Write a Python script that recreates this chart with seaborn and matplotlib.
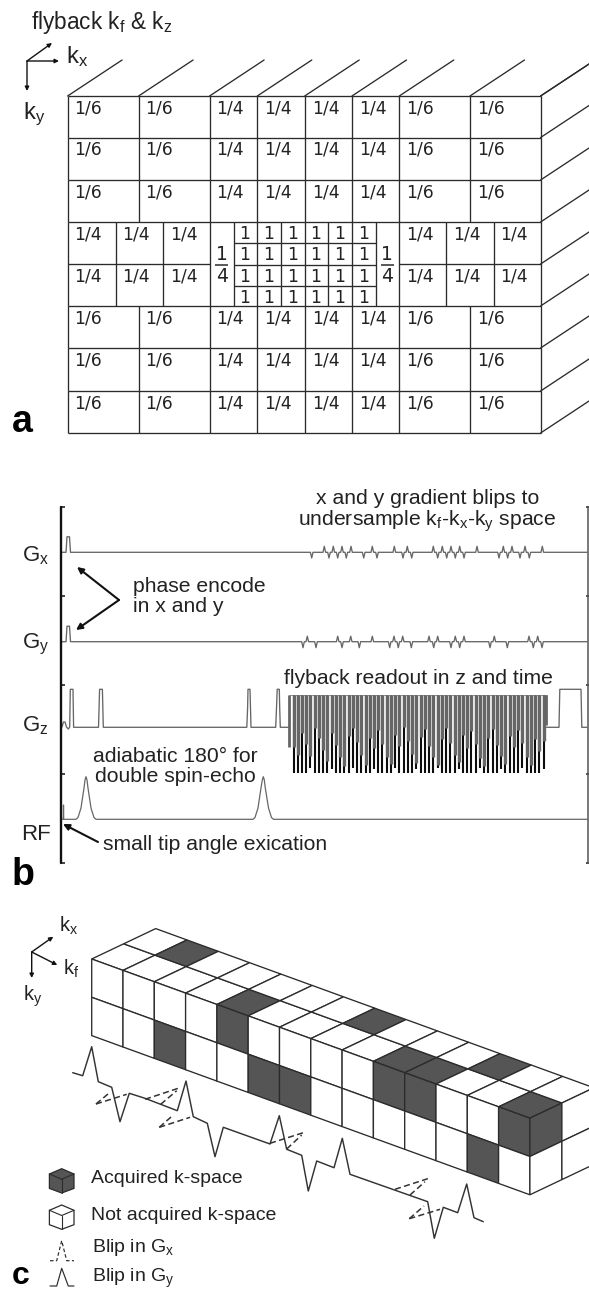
import matplotlib
matplotlib.use("Agg")
import matplotlib.pyplot as plt
from matplotlib.patches import Polygon
import seaborn as sns

# ---------- panel a ----------
A_ROWS = [96, 137.5, 180, 222, 264, 306, 348, 391, 433]
A_COLS_WIDE = [67.6, 138.6, 209.6, 257.3, 304.7, 352, 399.3, 470, 540.6]
A_COLS_MID_L = [67.6, 115.5, 163, 209.6]
A_COLS_MID_R = [399.3, 446.3, 493.6, 540.6]
A_COLS_CENTER = [233.7, 257.3, 281, 304.7, 328.3, 352, 375.7]
A_ROWS_CENTER = [222, 243, 264.5, 285.7, 306]
A_WIDE_LABELS = ["1/6", "1/6", "1/4", "1/4", "1/4", "1/4", "1/6", "1/6"]
A_MID_LABELS = ["1/4", "1/4", "1/4"]
A_ONE_X = [245, 269, 292.5, 316, 340, 363.5]
A_ONE_Y = [234, 255, 276.5, 298]

# ---------- panel b ----------
B_TICKS = [507, 596, 685, 774, 863]
GX_BASE = 552.3
GY_BASE = 641.7
GZ_BASE = 727.3
GZ_TOP = 689.3
RF_BASE = 819.3
GX_UP = [324.3, 333.3, 342, 351, 372.3, 394.3, 407.3, 433.3, 442.3, 451, 459.7, 477, 503.3, 512, 525, 542.3]
GX_DOWN = [311.7, 329, 337.7, 346.3, 363.7, 377, 403, 411.7, 437.7, 446.7, 455.3, 464, 499, 507.7, 520, 529.3]
GY_UP = [307.3, 337.7, 350.7, 372.3, 394, 402.7, 429, 437.7, 455.3, 464, 494.3, 529, 537.7]
GY_DOWN = [303, 316, 342, 359.3, 389.7, 398.3, 411.3, 433.7, 451, 459.7, 490, 507.3, 533.3, 542]
RO_BAR_BOTTOM = [773, 773, 773, 773, 768, 773, 773, 773, 773, 769, 773, 773, 773, 773, 768,
                 773, 773, 773, 773, 769, 773, 773, 773, 773, 768, 773, 773, 773, 773, 769,
                 773, 773, 773, 773, 768, 773, 773, 773, 773, 769, 773, 773, 773, 773, 768,
                 773, 773, 773, 773, 769, 773, 773, 773, 773, 768, 773, 773, 773, 773, 769]
RO_GRAY_END = [747, 755, 733, 744, 756, 728, 738, 750, 761, 733, 745, 757, 766, 736, 728,
               742, 755, 765, 738, 748, 730, 744, 757, 764, 735, 746, 727, 741, 754, 763,
               737, 729, 746, 757, 765, 739, 728, 743, 755, 762, 735, 748, 731, 744, 758,
               766, 738, 729, 745, 756, 764, 736, 747, 730, 743, 757, 765, 739, 751, 741]

GZ_X = [62, 63.5, 65, 66.5, 68.3, 69.7, 70.3, 73, 73.6, 98.5, 99.6, 102.4, 103.3, 246.8, 247.6, 248, 250, 250.5, 251, 275.7,
        276.5, 277.2, 279.3, 279.7, 280.3, 288.5]
GZ_Y = [727, 722, 722, 727, 729, 727, 689.3, 689.3, 727.3, 727.3, 689.3, 689.3, 727.3, 727.3, 708, 689.3, 689.3, 708, 727.3, 727.3,
        708, 689.3, 689.3, 708, 727.3, 727.3]
GZ_END_X = [546.5, 559, 559.8, 581, 581.8, 587]
GZ_END_Y = [727.3, 727.3, 689.3, 689.3, 727.3, 727.3]
RF_X = [62, 63.3, 63.5, 63.7, 64.5, 76, 78, 81, 84, 85, 86, 87, 88, 91, 94, 96,
        253, 255, 258, 261, 262.3, 263.3, 264.3, 265.3, 268.5, 271.5, 273.5, 587]
RF_Y = [819.3, 819, 805, 819, 819.3, 819.3, 817.5, 808, 788, 780, 776.7, 780, 788, 808, 817.5, 819.3,
        819.3, 817.5, 808, 788, 780, 776.7, 780, 788, 808, 817.5, 819.3, 819.3]

# ---------- panel c ----------
C_KF_CELLS = 14
C_TOP_DARK = [(1, 1), (4, 0), (7, 1), (9, 0), (10, 0), (11, 1), (13, 0)]
C_FRONT_DARK = [(2, 1), (4, 0), (5, 1), (6, 1), (9, 0), (10, 0), (12, 1), (13, 0)]
C_WAVE_X = [72.7, 82.7, 91.7, 98.3, 111.7, 120, 129.3, 145, 177.3, 186, 193.3, 207.3, 215, 223.3, 270, 279.3, 286.7, 301.7,
            308.3, 316.7, 334, 342.3, 350, 427.7, 434.3, 443.3, 457.7, 466.7, 474, 483.3]
C_WAVE_Y = [1072.7, 1075.7, 1046.7, 1081.7, 1087.3, 1121.7, 1093.3, 1098.3, 1110.7, 1081, 1116.7, 1123.3, 1156.7, 1127.3, 1144, 1115.7, 1149.3, 1155.3,
            1191, 1161, 1167.7, 1138.3, 1174.3, 1201.7, 1238.3, 1207.3, 1212.7, 1184, 1217.7, 1221.7]
C_DASH = [((145, 1099.3), (180, 1087.7)), ((160.7, 1104.3), (176.7, 1090.7)),
          ((96, 1104), (126.7, 1094.3)), ((96, 1104), (110, 1092.3)),
          ((159.3, 1127.3), (190, 1117.3)), ((159.3, 1127.3), (173.3, 1115)),
          ((270, 1143.3), (303.3, 1132.7)), ((286.7, 1149), (301.7, 1135)),
          ((395, 1189.3), (429, 1178.3)), ((410, 1195), (425, 1181.7)),
          ((409.3, 1218.7), (440, 1209.3)), ((409.3, 1218.7), (424, 1206))]

DEPTH = "#2b2b2b"
GRAY = "#666666"
SANS = "Liberation Sans"

sns.set_theme(style="white", rc={"mathtext.default": "regular"})
plt.rcParams["font.family"] = [SANS, "DejaVu Sans"]

fig = plt.figure(figsize=(5.89, 12.92), dpi=100)
ax = fig.add_axes([0, 0, 1, 1])


def path(xs, ys, color=DEPTH, lw=0.95, ls="-", z=3):
    sns.lineplot(x=xs, y=ys, sort=False, estimator=None, errorbar=None, color=color,
                 linewidth=lw, linestyle=ls, ax=ax, legend=False, zorder=z)


def label(x, y, s, size=15.2, **kw):
    kw.setdefault("color", "#222222")
    kw.setdefault("va", "center")
    kw.setdefault("ha", "left")
    ax.text(x, y, s, fontsize=size, **kw)


def arrow(p0, p1, lw=1.0, head=7):
    ax.annotate("", xy=p1, xytext=p0, zorder=5,
                arrowprops=dict(arrowstyle="-|>", lw=lw, color="#111111", mutation_scale=head,
                                shrinkA=0, shrinkB=0))


# ---------- panel a ----------
L, R = A_COLS_WIDE[0], A_COLS_WIDE[-1]
wide_rows = [(0, 1), (1, 2), (2, 3), (5, 6), (6, 7), (7, 8)]
ax.hlines(A_ROWS[:4] + A_ROWS[5:], L, R, color=DEPTH, lw=0.95)
ax.hlines(A_ROWS[4], L, A_COLS_MID_L[-1], color=DEPTH, lw=0.95)
ax.hlines(A_ROWS[4], A_COLS_MID_R[0], R, color=DEPTH, lw=0.95)
ax.hlines(A_ROWS_CENTER[1:4], A_COLS_CENTER[0], A_COLS_CENTER[-1], color=DEPTH, lw=0.95)
for a, b in wide_rows:
    ax.vlines(A_COLS_WIDE, A_ROWS[a], A_ROWS[b], color=DEPTH, lw=0.95)
    for cx, text in zip(A_COLS_WIDE, A_WIDE_LABELS):
        ax.text(cx + 7, A_ROWS[a] + 12.5, text, family="DejaVu Sans", fontsize=12.3, va="center",
                color="#222222")
ax.vlines(A_COLS_MID_L + A_COLS_MID_R + A_COLS_CENTER, A_ROWS[3], A_ROWS[5], color=DEPTH, lw=0.95)
for row in (3, 4):
    for cx, text in zip(A_COLS_MID_L[:3] + A_COLS_MID_R[:3], A_MID_LABELS * 2):
        ax.text(cx + 7, A_ROWS[row] + 12.5, text, family="DejaVu Sans", fontsize=12.3, va="center",
                color="#222222")
for y in A_ONE_Y:
    for x in A_ONE_X:
        ax.text(x, y, "1", family="DejaVu Sans", fontsize=12.3, ha="center", va="center", color="#222222")
for x in (221.6, 387.3):
    ax.text(x, 254, "1", family="DejaVu Sans", fontsize=13.5, ha="center", va="center", color="#222222")
    ax.text(x, 277, "4", family="DejaVu Sans", fontsize=13.5, ha="center", va="center", color="#222222")
    ax.hlines(265, x - 6.5, x + 6.5, color=DEPTH, lw=1.1)
for x in A_COLS_WIDE:
    path([x, x + 54.5], [96, 60])
for y in A_ROWS:
    path([R, R + 54.5], [y, y - 36])
arrow((27, 61), (59, 61), head=6)
arrow((27, 61), (52, 43), head=6)
arrow((27, 61), (27, 91), head=6)
label(31, 23, "flyback k$_{f}$ & k$_{z}$", size=16.3)
label(66, 57, "k$_{x}$", size=17)
label(23, 114, "k$_{y}$", size=17)
label(12, 432.5, "a", size=27, fontweight="bold", color="black", va="baseline")

# ---------- panel b ----------
ax.plot([61, 61], [B_TICKS[0], B_TICKS[-1]], color="#111111", lw=1.7, zorder=4)
ax.hlines(B_TICKS, 61, 64.5, color="#111111", lw=1.1)
ax.plot([587.5, 587.5], [B_TICKS[0], B_TICKS[-1]], color="#555555", lw=1.1, zorder=4)
ax.hlines(B_TICKS, 586, 589, color="#222222", lw=1.1)


def blips(base, ups, downs, amp_up, amp_dn, start, end):
    events = sorted([(x, base - amp_up) for x in ups] + [(x, base + amp_dn) for x in downs])
    xs, ys = [start, 66, 67, 69.5, 70.5], [base, base, base - 15.5, base - 15.5, base]
    last = 70.5
    for x, peak in events:
        if x - 1.3 > last:
            xs.append(x - 1.3)
            ys.append(base)
        xs.append(x)
        ys.append(peak)
        xs.append(x + 1.3)
        ys.append(base)
        last = x + 1.3
    xs.append(end)
    ys.append(base)
    path(xs, ys, color=GRAY, lw=0.95)


blips(GX_BASE, GX_UP, GX_DOWN, 6, 5.7, 62, 587)
blips(GY_BASE, GY_UP, GY_DOWN, 5.5, 6, 62, 587)
path(GZ_X, GZ_Y, color=GRAY)
path(GZ_END_X, GZ_END_Y, color=GRAY)
path(RF_X, RF_Y, color=GRAY, lw=0.9)

# readout: one bar per gradient lobe, placed by its index
n_bars = len(RO_BAR_BOTTOM)
spacing = (543.5 - 293.5) / (n_bars - 1)
bar_x = [293.5 + i * spacing for i in range(n_bars)]
ax.vlines(bar_x, 695, RO_BAR_BOTTOM, color="#0c0c0c", lw=1.5, zorder=3)
ax.vlines(bar_x, 695, RO_GRAY_END, color="#666666", lw=2.4, zorder=4)
ax.vlines([289.3, 546.3], 695, [747, 725], color="#666666", lw=2.0, zorder=4)
path([288.5, 547], [695, 695], color="#808080", lw=0.6)

label(316, 498, "x and y gradient blips to")
label(298, 521, "undersample k$_{f}$-k$_{x}$-k$_{y}$ space")
label(133, 587, "phase encode")
label(133, 607, "in x and y")
label(284, 678, "flyback readout in z and time")
label(93, 756, "adiabatic 180° for")
label(95, 776, "double spin-echo")
label(103, 844, "small tip angle exication")
label(22, 556, "G$_{x}$", size=16)
label(22, 644, "G$_{y}$", size=16)
label(22, 726, "G$_{z}$", size=16)
label(21, 835, "RF", size=16)
arrow((119, 600), (77, 567), lw=1.5, head=9)
arrow((119, 600), (76, 630), lw=1.5, head=9)
arrow((98, 842), (63, 824), lw=1.5, head=9)
label(12, 885, "b", size=27, fontweight="bold", color="black", va="baseline")

# ---------- panel c ----------
OX, OY = 91.7, 959.0
UX, UY = 31.3, 11.37
VX, VY = 32.0, -15.2
H = 38.3
DARK = "#555555"


def top_pt(i, k):
    return OX + i * UX + k * VX, OY + i * UY + k * VY


def face(pts, dark):
    ax.add_patch(Polygon(pts, closed=True, facecolor=DARK if dark else "white",
                         edgecolor=DEPTH, lw=0.95, zorder=2, clip_on=True))


for i in range(C_KF_CELLS):
    for k in (0, 1):
        face([top_pt(i, k), top_pt(i + 1, k), top_pt(i + 1, k + 1), top_pt(i, k + 1)], (i, k) in C_TOP_DARK)
    for j in (0, 1):
        x0, y0 = top_pt(i, 0)
        x1, y1 = top_pt(i + 1, 0)
        face([(x0, y0 + j * H), (x1, y1 + j * H), (x1, y1 + (j + 1) * H), (x0, y0 + (j + 1) * H)],
             (i, j) in C_FRONT_DARK)
for k in (0, 1):
    for j in (0, 1):
        x0, y0 = top_pt(C_KF_CELLS, k)
        x1, y1 = top_pt(C_KF_CELLS, k + 1)
        face([(x0, y0 + j * H), (x1, y1 + j * H), (x1, y1 + (j + 1) * H), (x0, y0 + (j + 1) * H)],
             k == 0 and j == 0)

path(C_WAVE_X, C_WAVE_Y, lw=1.05, color="#333333")
for p0, p1 in C_DASH:
    path([p0[0], p1[0]], [p0[1], p1[1]], lw=1.1, ls=(0, (4, 2.2)), color="#333333")

arrow((31.7, 952), (53.3, 936.7), head=6)
arrow((31.7, 952), (57.3, 965), head=6)
arrow((31.7, 952), (31.7, 978), head=6)
label(59, 926, "k$_{x}$", size=14.5)
label(63, 969, "k$_{f}$", size=14.5)
label(23, 996, "k$_{y}$", size=14.5)


def cube(y0, fill):
    cx = 61.7
    hex_pts = [(cx, y0), (cx + 12.3, y0 + 5.3), (cx + 12.3, y0 + 19.7), (cx, y0 + 24.3),
               (cx - 12.3, y0 + 19.7), (cx - 12.3, y0 + 5.3)]
    ax.add_patch(Polygon(hex_pts, closed=True, facecolor=fill, edgecolor=DEPTH, lw=0.9, zorder=3))
    for px, py in [(cx, y0 + 24.3), (cx + 12.3, y0 + 5.3), (cx - 12.3, y0 + 5.3)]:
        path([cx, px], [y0 + 10.5, py], lw=0.8)


cube(1168.7, DARK)
cube(1205, "white")
label(90.7, 1178.5, "Acquired k-space", size=14)
label(90.7, 1216, "Not acquired k-space", size=14)
label(92.5, 1247.5, "Blip in G$_{x}$", size=14)
label(92.5, 1278, "Blip in G$_{y}$", size=14)
path([50, 56.7, 61.7, 66.7, 74], [1260.7, 1260.7, 1240.7, 1260.7, 1260.7], ls=(0, (3, 2)), lw=0.85)
path([50, 56.7, 61.7, 68.3, 74], [1286, 1286, 1268.3, 1286, 1286], lw=0.85)
label(12, 1284.5, "c", size=23, fontweight="bold", color="black", va="baseline")

ax.set_xlim(0, 589)
ax.set_ylim(1292, 0)
ax.axis("off")
fig.savefig("out.png", dpi=100, facecolor="white")
